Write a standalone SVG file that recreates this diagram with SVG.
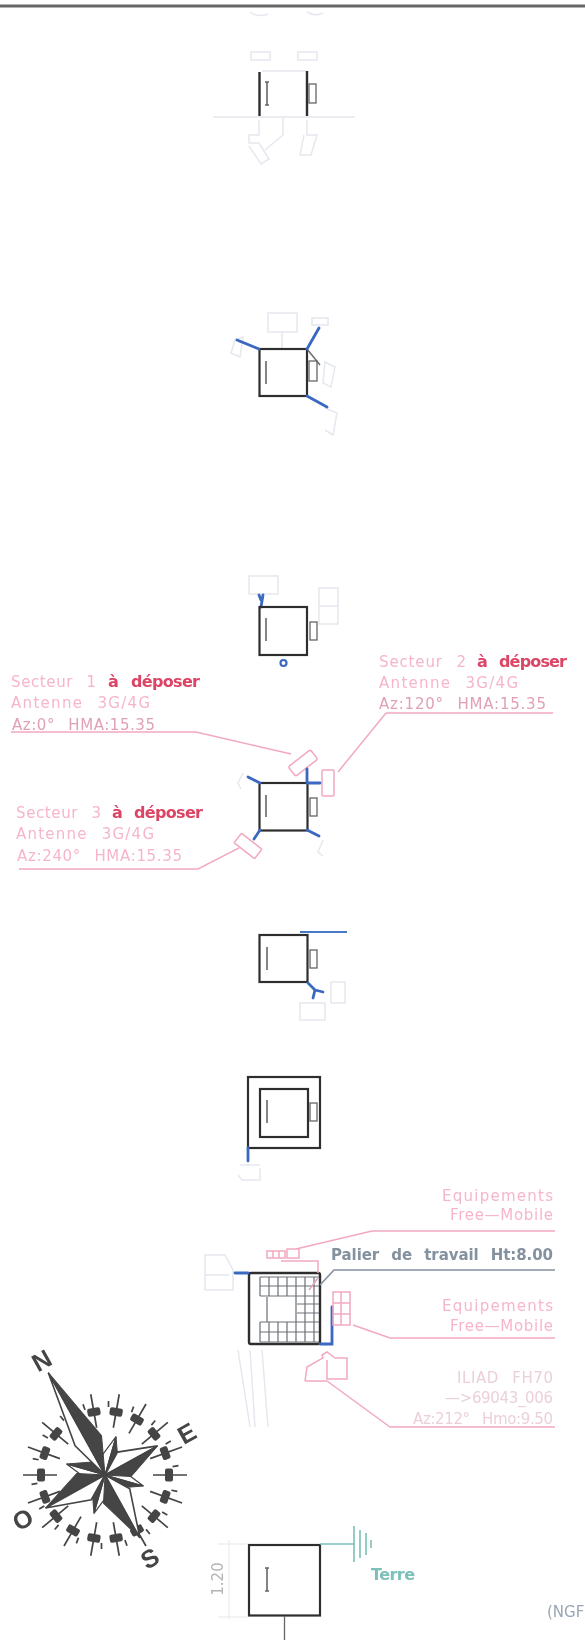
<svg xmlns="http://www.w3.org/2000/svg" width="585" height="1641" viewBox="0 0 585 1641">
<defs>
<filter id="soft" x="-5%" y="-5%" width="110%" height="110%"><feGaussianBlur stdDeviation="0.5"/></filter>
<g id="tick"><path d="M0,-82V-48" class="k"/><rect x="-6.500" y="-68" width="13" height="8" rx="2" fill="#444"/><path d="M3.500,-74V-68" class="k" transform="rotate(10)"/></g>
<g id="dk"><path d="M0,0L0,-40L-9,-16Z" fill="#fff" stroke="#444" stroke-width="1.200"/><path d="M0,0L0,-40L9,-16Z" fill="#444" stroke="#444"/></g>
</defs>
<style>
.sq{fill:none;stroke:#2e2e2e;stroke-width:2.200}
.g{fill:none;stroke:#666;stroke-width:1.300}
.i{fill:none;stroke:#666;stroke-width:1.600}
.f{fill:none;stroke:#e6e8f0;stroke-width:1.500}
.b{fill:none;stroke:#3a68c0;stroke-width:2.800;stroke-linecap:round}
.p{fill:none;stroke:#f2a9bf;stroke-width:1.500}
.k{fill:none;stroke:#444;stroke-width:1.700}
text{font-family:"DejaVu Sans",sans-serif}
.t{font-size:15px;fill:#f7b5c9;word-spacing:8px}
.d{font-size:15px;fill:#e2a0b4;word-spacing:8px}
.r{font-size:16px;fill:#dc4465;font-weight:bold}
.gr{font-size:15px;fill:#84919f;font-weight:bold;word-spacing:7px}
.v{font-size:15px;fill:#ecd0d9;word-spacing:8px}
.cl{font-family:"Liberation Sans",sans-serif;font-size:25px;font-weight:bold;fill:#444;text-anchor:middle}
</style>
<rect width="585" height="1641" fill="#fff"/>
<g filter="url(#soft)">
<path d="M0,6H585" stroke="#666" stroke-width="3"/>
<g id="level1">
<path class="f" d="M213,117H355M283,117V135L265,150M250,12q8,6 18,2M307,12q8,5 16,1M251,52h19v8h-19zM298,52h19v8h-19zM262,71h44M259,120v15h-10v8h10l10,16l-8,5l-12,-18M307,120v15h10l-6,20h-11l4,-20"/>
<path d="M259.500,72V116M307,71V116" stroke="#2e2e2e" stroke-width="2.400" fill="none"/>
<path class="i" d="M265,82h4M267,82V105M265,105h4"/>
<rect class="g" x="309" y="84" width="7" height="19"/>
</g>
<g id="level2">
<path class="f" d="M268,313h29v19h-29zM282,332v17M312,318h16v7h-16zM325,362l10,5l-4,20l-8,-4zM325,408l12,5l-4,22l-8,-5M235,340l8,-3l-3,20l-9,-4z"/>
<rect class="sq" x="259.500" y="349" width="47.500" height="47"/>
<path class="b" d="M259,349L237,340M307,349L319,328M307,396L327,407"/>
<path class="g" d="M307,349L320,365"/>
<rect class="g" x="309" y="361" width="8" height="20"/>
<path class="i" d="M266,361V384"/>
</g>
<g id="level3">
<path class="f" d="M249,576h29v18h-29zM319,588h19v36h-19zM319,606h19"/>
<path class="b" d="M261,607L263,595M261,600l-2,-5"/>
<rect class="sq" x="259.500" y="607" width="47.500" height="48"/>
<rect class="g" x="310" y="622" width="7" height="18"/>
<path class="i" d="M266,618V641"/>
<circle cx="283.500" cy="663" r="3" fill="none" stroke="#3a68c0" stroke-width="2.200"/>
</g>
<g id="level4">
<path class="p" d="M11,732H196L291,754M386,713H553M386,713L338,772M19,869H198L239,848"/>
<rect class="p" x="-14" y="-6" width="28" height="12" rx="2" transform="translate(303 763) rotate(-38)"/>
<rect class="p" x="322" y="770" width="12" height="26" rx="1"/>
<rect class="p" x="-13" y="-6" width="26" height="12" rx="1" transform="translate(248 846) rotate(38)"/>
<path class="f" d="M243,773l-5,10l3,6M323,840l-5,12l5,4"/>
<rect class="sq" x="259.500" y="783" width="48" height="47.500"/>
<rect class="g" x="310" y="798" width="7" height="18"/>
<path class="i" d="M266,795V817"/>
<path class="b" d="M260,783L248,777M307,783V769M307,783H320M307,830L319,836M260,830L254,839"/>
<text class="t" x="11" y="687" textLength="85">Secteur 1</text><text class="r" x="108" y="687">à</text><text class="r" x="131" y="687" textLength="69">déposer</text>
<text class="t" x="11" y="708" textLength="139">Antenne 3G/4G</text>
<text class="d" x="12" y="730" textLength="143">Az:0° HMA:15.35</text>
<text class="t" x="379" y="667" textLength="87">Secteur 2</text><text class="r" x="477" y="667">à</text><text class="r" x="499" y="667" textLength="68">déposer</text>
<text class="t" x="379" y="688" textLength="139">Antenne 3G/4G</text>
<text class="d" x="379" y="709" textLength="167">Az:120° HMA:15.35</text>
<text class="t" x="16" y="818" textLength="85">Secteur 3</text><text class="r" x="112" y="818">à</text><text class="r" x="134" y="818" textLength="69">déposer</text>
<text class="t" x="16" y="839" textLength="138">Antenne 3G/4G</text>
<text class="t" x="17" y="861" textLength="165">Az:240° HMA:15.35</text>
</g>
<g id="level5">
<path d="M300,932H347" stroke="#4a78c8" stroke-width="2" fill="none"/>
<rect class="sq" x="259.500" y="935" width="48" height="47"/>
<rect class="g" x="310" y="950" width="7" height="18"/>
<path class="i" d="M267,947V970"/>
<path class="b" d="M308,983L315,990M315,990L323,992M315,990L313,998"/>
<path class="f" d="M331,982h14v21h-14zM300,1003h25v17h-25z"/>
</g>
<g id="level6">
<rect class="sq" x="248" y="1077" width="72" height="71"/>
<rect class="sq" x="260" y="1089" width="48" height="48"/>
<rect class="g" x="310" y="1103" width="7" height="18"/>
<path class="i" d="M267,1100V1123"/>
<path class="b" d="M248,1148V1161"/>
<path class="f" d="M240,1165h20M238,1175l4,5h18v-12"/>
</g>
<g id="level7">
<path class="f" d="M205,1255h20l8,15v20h-28zM205,1275h24M238,1350l12,77M250,1350l5,77M262,1350l6,77"/>
<rect x="249" y="1273" width="71" height="71" rx="2" fill="none" stroke="#2e2e2e" stroke-width="2.400"/>
<path d="M260,1277V1296M269,1277V1296M278,1277V1296M287,1277V1296M296,1277V1342M305,1277V1342M314,1277V1342M260,1322V1342M269,1322V1342M278,1322V1342M287,1322V1342M260,1277H319M260,1286H319M260,1296H319M297,1304H319M297,1313H319M260,1322H319M260,1332H319M260,1342H319M267,1297V1322" fill="none" stroke="#6c7078" stroke-width="1.200"/>
<path class="b" d="M235,1273H248"/>
<path class="b" d="M320,1344H332V1307" stroke-width="2"/>
<path d="M320,1285L334,1270H555" stroke="#84919f" stroke-width="1.600" fill="none"/>
<path d="M309,1290L318,1278" stroke="#e6a3b8" stroke-width="1.500" fill="none"/>
<g>
<path class="p" d="M267,1251h18v7h-18zM273,1251v7M279,1251v7M287,1249h12v9h-12zM281,1261H318V1273M296,1249L372,1231H555" stroke-width="2"/>
<path class="p" d="M333,1292h17v33h-17zM333,1303h17M333,1314h17M341,1292v33" stroke-width="2"/>
<path class="p" d="M353,1325L390,1338H555" stroke-width="1.800"/>
<path class="p" d="M305,1381l2,-14l16,-9l-1,-3l5,-3l8,6h12v21h-20v-19M305,1381h22M327,1381L390,1427H555" stroke-width="1.800"/>
</g>
<text x="442" y="1201" class="t" textLength="111">Equipements</text>
<text x="450" y="1220" class="t" textLength="103">Free—Mobile</text>
<text x="331" y="1260" class="gr" textLength="222">Palier de travail Ht:8.00</text>
<text x="442" y="1311" class="t" textLength="111">Equipements</text>
<text x="450" y="1331" class="t" textLength="103">Free—Mobile</text>
<text x="457" y="1383" class="v" textLength="96">ILIAD FH70</text>
<text x="445" y="1403" class="v" textLength="108">—&gt;69043_006</text>
<text x="413" y="1424" class="v" textLength="140">Az:212° Hmo:9.50</text>
</g>
<g id="compass">
<g transform="translate(105 1475)">
<g transform="rotate(-10)"><use href="#tick"/></g><g transform="rotate(10)"><use href="#tick"/></g><g transform="rotate(30)"><use href="#tick"/></g><g transform="rotate(50)"><use href="#tick"/></g><g transform="rotate(70)"><use href="#tick"/></g><g transform="rotate(90)"><use href="#tick"/></g><g transform="rotate(110)"><use href="#tick"/></g><g transform="rotate(130)"><use href="#tick"/></g><g transform="rotate(150)"><use href="#tick"/></g><g transform="rotate(170)"><use href="#tick"/></g><g transform="rotate(190)"><use href="#tick"/></g><g transform="rotate(210)"><use href="#tick"/></g><g transform="rotate(230)"><use href="#tick"/></g><g transform="rotate(250)"><use href="#tick"/></g><g transform="rotate(270)"><use href="#tick"/></g><g transform="rotate(290)"><use href="#tick"/></g><g transform="rotate(310)"><use href="#tick"/></g><g transform="rotate(330)"><use href="#tick"/></g>
<g transform="rotate(-29)">
<use href="#dk" transform="rotate(45)"/><use href="#dk" transform="rotate(135)"/><use href="#dk" transform="rotate(225)"/><use href="#dk" transform="rotate(315)"/>
<path d="M0,0L0,-117L-12,-40Z" fill="#fff" stroke="#444" stroke-width="1.600"/>
<path d="M0,0L0,-117L16,-36Z" fill="#444" stroke="#444"/>
<path d="M0,0L0,72L15,24Z" fill="#fff" stroke="#444" stroke-width="1.600"/>
<path d="M0,0L0,72L-15,24Z" fill="#444" stroke="#444"/>
<path d="M0,0L60,0L22,-14Z" fill="#fff" stroke="#444" stroke-width="1.600"/>
<path d="M0,0L60,0L22,14Z" fill="#444" stroke="#444"/>
<path d="M0,0L-68,0L-24,-15Z" fill="#444" stroke="#444"/>
<path d="M0,0L-68,0L-24,15Z" fill="#fff" stroke="#444" stroke-width="1.600"/>
</g>
</g>
<text class="cl" transform="translate(46 1368) rotate(-29)">N</text>
<text class="cl" transform="translate(191 1441) rotate(-29)">E</text>
<text class="cl" transform="translate(27 1527) rotate(-29)">O</text>
<text class="cl" transform="translate(154 1566) rotate(-29)">S</text>
</g>
<g id="level8">
<rect class="sq" x="249" y="1545" width="71" height="70.500"/>
<path class="i" d="M267,1568V1591M265,1568h4M265,1591h4"/>
<path class="g" d="M284.500,1616V1640"/>
<path d="M320,1544H354" stroke="#7cc0b8" stroke-width="1.300" fill="none"/>
<path d="M354,1526V1562M360,1530V1558M366,1533V1555M371,1540V1548" stroke="#7cc0b8" stroke-width="1.600" fill="none"/>
<path d="M218,1544H248M218,1617H248M229,1540V1620" fill="none" stroke="#f0f0f2" stroke-width="1.500"/>
<text transform="translate(223 1579) rotate(-90)" text-anchor="middle" font-size="15" fill="#b4b4b4">1.20</text>
<text x="371" y="1580" font-size="16" fill="#7cc0b8" font-weight="bold" textLength="44">Terre</text>
<text x="547" y="1617" font-size="15" fill="#9aa6b5">(NGF</text>
</g>
</g>
</svg>
